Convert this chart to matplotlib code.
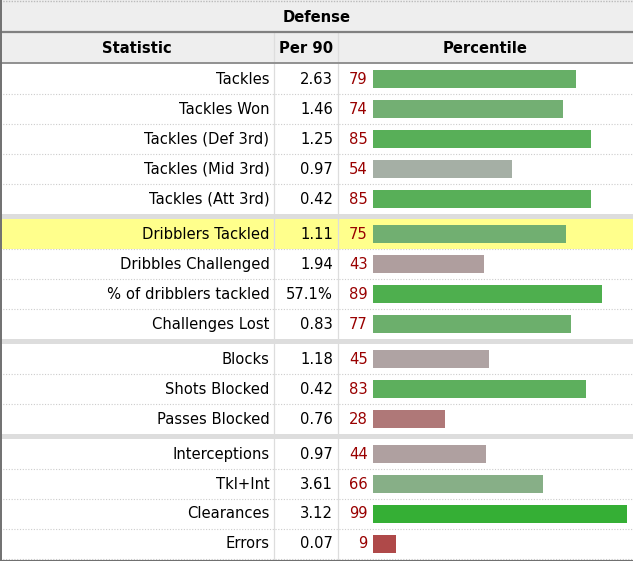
import matplotlib
matplotlib.use("Agg")
import matplotlib.pyplot as plt

# ---- data ----
title = "Defense"
headers = ["Statistic", "Per 90", "Percentile"]
statistics = ["Tackles", "Tackles Won", "Tackles (Def 3rd)", "Tackles (Mid 3rd)", "Tackles (Att 3rd)",
              "Dribblers Tackled", "Dribbles Challenged", "% of dribblers tackled", "Challenges Lost",
              "Blocks", "Shots Blocked", "Passes Blocked",
              "Interceptions", "Tkl+Int", "Clearances", "Errors"]
per90 = ["2.63", "1.46", "1.25", "0.97", "0.42",
         "1.11", "1.94", "57.1%", "0.83",
         "1.18", "0.42", "0.76",
         "0.97", "3.61", "3.12", "0.07"]
percentile = [79, 74, 85, 54, 85,
              75, 43, 89, 77,
              45, 83, 28,
              44, 66, 99, 9]
group_sizes = [5, 4, 3, 4]
highlight = "Dribblers Tackled"

plt.rcParams['font.family'] = ['DejaVu Sans']

# ---- layout (pixels) ----
W, H = 633, 561
ROW_H = 30
SEP = 5
TOP = 64
X_COL1 = 274
X_COL2 = 337.5
BAR_LEFT = 373
PX_PER_PCT = 2.57
FS = 10.6


def pct_color(p):
    if p >= 50:
        v = max(0, 175 - (p - 50) * 2.5)
        return (v / 255, 175 / 255, v / 255)
    v = max(0, 175 - (50 - p) * 2.5)
    return (175 / 255, v / 255, v / 255)


fig = plt.figure(figsize=(W / 100, H / 100), dpi=100)
ax = fig.add_axes([0, 0, 1, 1])
ax.set_xlim(0, W)
ax.set_ylim(H, 0)
ax.axis('off')

# header backgrounds
ax.add_patch(plt.Rectangle((0, 0), W, 63, color='#eeeeee', zorder=0, lw=0))
ax.axhline(0.5, color='#bbbbbb', lw=1, ls=(0, (1, 1)), zorder=3)
ax.axhline(32, color='#808080', lw=1.6, zorder=3)
ax.axhline(63, color='#909090', lw=1.4, zorder=3)
ax.text(W / 2, 17, title, ha='center', va='center', fontsize=FS, fontweight='bold', color='#000000')
ax.text(X_COL1 / 2, 48, headers[0], ha='center', va='center', fontsize=FS, fontweight='bold')
ax.text((X_COL1 + X_COL2) / 2, 48, headers[1], ha='center', va='center', fontsize=FS, fontweight='bold')
ax.text((X_COL2 + W) / 2, 48, headers[2], ha='center', va='center', fontsize=FS, fontweight='bold')

# row positions
centers = []
y = TOP
for gi, n in enumerate(group_sizes):
    for k in range(n):
        centers.append(y + ROW_H / 2)
        y += ROW_H
        if k < n - 1:
            ax.axhline(y, color='#cccccc', lw=0.8, ls=(0, (1, 1.5)), zorder=1)
    if gi < len(group_sizes) - 1:
        ax.add_patch(plt.Rectangle((0, y), W, SEP, color='#dddddd', lw=0, zorder=1))
        y += SEP
bottom = y

ax.axhline(bottom, color='#cccccc', lw=0.8, ls=(0, (1, 1.5)), zorder=1)
ax.axhline(bottom + 1.5, color='#707070', lw=1.5, zorder=3)

# highlight row
for name, c in zip(statistics, centers):
    if name == highlight:
        ax.add_patch(plt.Rectangle((0, c - ROW_H / 2), W, ROW_H, color='#ffff8c', lw=0, zorder=0.5))

# vertical column lines
for xv in (X_COL1, X_COL2):
    ax.plot([xv, xv], [33, bottom], color='#dddddd', lw=0.9, zorder=1.5)
ax.plot([0.6, 0.6], [0, H], color='#707070', lw=1.4, zorder=3)

# bars
ax.barh(centers, [p * PX_PER_PCT for p in percentile], left=BAR_LEFT, height=18.5,
        color=[pct_color(p) for p in percentile], zorder=2)

# texts
for name, v, p, c in zip(statistics, per90, percentile, centers):
    ax.text(269.5, c, name, ha='right', va='center', fontsize=FS, color='#000000', zorder=4)
    ax.text(333, c, v, ha='right', va='center', fontsize=FS, color='#000000', zorder=4)
    ax.text(367.5, c, str(p), ha='right', va='center', fontsize=FS, color='#990000', zorder=4)

fig.savefig("out.png", dpi=100)
